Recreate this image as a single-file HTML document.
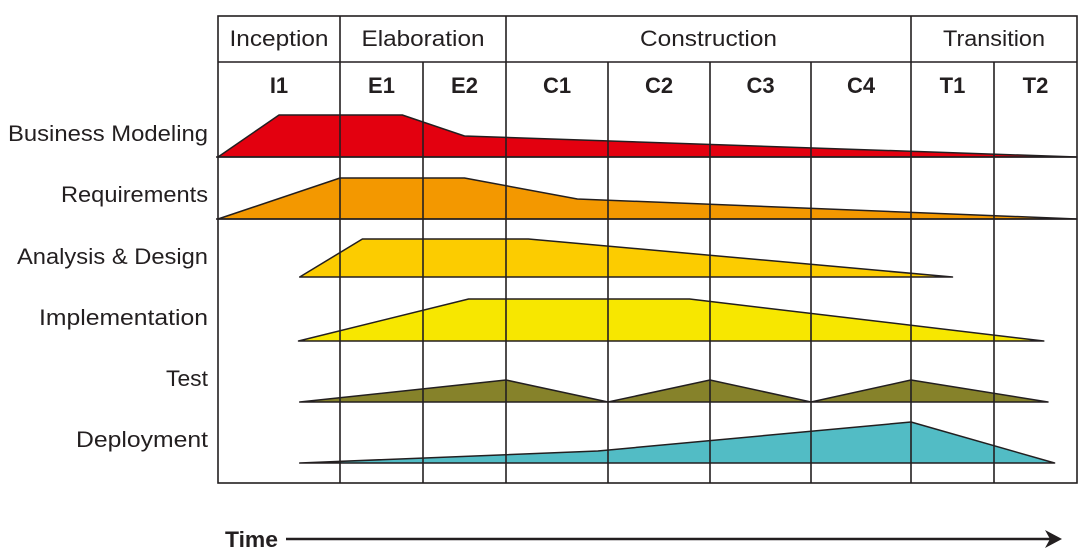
<!DOCTYPE html>
<html><head><meta charset="utf-8"><style>
body{margin:0;background:#fff;width:1090px;height:556px;overflow:hidden}
svg{display:block;font-family:"Liberation Sans",sans-serif}
</style></head><body>
<svg id="c" width="1090" height="556"></svg>
<script>
const phases=["Inception","Elaboration","Construction","Transition"];
const phaseSpans=[[0,1],[1,3],[3,7],[7,9]];
const iterations=["I1","E1","E2","C1","C2","C3","C4","T1","T2"];
const disciplines=["Business Modeling","Requirements","Analysis & Design","Implementation","Test","Deployment"];
const bmT=[0,0.5,1.75,2.5,9], bmV=[0,42,42,21,0];
const rqT=[0,1,2.5,3.7,9], rqV=[0,41,41,20,0];
const adT=[0.67,1.27,3.22,7.5], adV=[0,38,38,0];
const imT=[0.66,2.55,4.8,8.6], imV=[0,42,42,0];
const tsT=[0.67,3,4,5,6,7,8.65], tsV=[0,22,0,22,0,22,0];
const dpT=[0.67,3.9,7,8.73], dpV=[0,12,41,0];
const colors=["#e3000f","#f39800","#fccc00","#f7e700","#86822a","#52bcc5"];
const svg=document.getElementById('c');const NS="http://www.w3.org/2000/svg";
const bounds=[218,340,423,506,608,710,811,911,994,1077];
function X(t){const i=Math.min(8,Math.floor(t));return bounds[i]+(t-i)*(bounds[i+1]-bounds[i]);}
const baselines=[157,219,277,341,402,463];
function Y(row,v){return baselines[row]-v;}
function mk(tag,at){const e=document.createElementNS(NS,tag);for(const k in at)e.setAttribute(k,at[k]);svg.appendChild(e);return e;}
const series=[[bmT,bmV],[rqT,rqV],[adT,adV],[imT,imV],[tsT,tsV],[dpT,dpV]];
series.forEach((s,r)=>{
 const pts=s[0].map((t,i)=>X(t).toFixed(1)+","+Y(r,s[1][i]).toFixed(1)).join(" ");
 const p=mk('polygon',{points:pts,fill:colors[r],stroke:"#231f20","stroke-width":1.5,"stroke-linejoin":"round"});
 
 
});
const g=mk('rect',{x:218,y:16,width:859,height:467,fill:"none",stroke:"#231f20","stroke-width":1.6});

let l=mk('line',{x1:218,y1:62,x2:1077,y2:62,stroke:"#231f20","stroke-width":1.6});

[157,219].forEach(y=>{const h=mk('line',{x1:216,y1:y,x2:1077,y2:y,stroke:"#231f20","stroke-width":1.4});
 });
for(let i=1;i<9;i++){const full=[1,3,7].includes(i);
 const v=mk('line',{x1:bounds[i],y1:full?16:62,x2:bounds[i],y2:483,stroke:"#231f20","stroke-width":1.6});
 }
const phaseW=[99,123,137,102];
phases.forEach((p,i)=>{const sp=phaseSpans[i];
 const t=mk('text',{x:(X(sp[0])+X(sp[1]))/2,y:46,"text-anchor":"middle","font-size":22,fill:"#231f20",textLength:phaseW[i],lengthAdjust:"spacingAndGlyphs"});t.textContent=p;
 });
iterations.forEach((it,i)=>{const t=mk('text',{x:(X(i)+X(i+1))/2,y:93,"text-anchor":"middle","font-size":22,"font-weight":"bold",fill:"#231f20"});t.textContent=it;
 });
const labelY=[141,202,264,325,386,447];
const labelW=[200,147,191,169,42,132];
disciplines.forEach((d,i)=>{const t=mk('text',{x:208,y:labelY[i],"text-anchor":"end","font-size":22,fill:"#231f20",textLength:labelW[i],lengthAdjust:"spacingAndGlyphs"});t.textContent=d;
 });
const tt=mk('text',{x:225,y:547,"font-size":22,"font-weight":"bold",fill:"#231f20",textLength:53,lengthAdjust:"spacingAndGlyphs"});tt.textContent="Time";

const ar=mk('line',{x1:286,y1:539,x2:1052,y2:539,stroke:"#231f20","stroke-width":2.5});

const ah=mk('polygon',{points:"1062,539 1045,530 1050,539 1045,548",fill:"#231f20"});

</script>
</body></html>
